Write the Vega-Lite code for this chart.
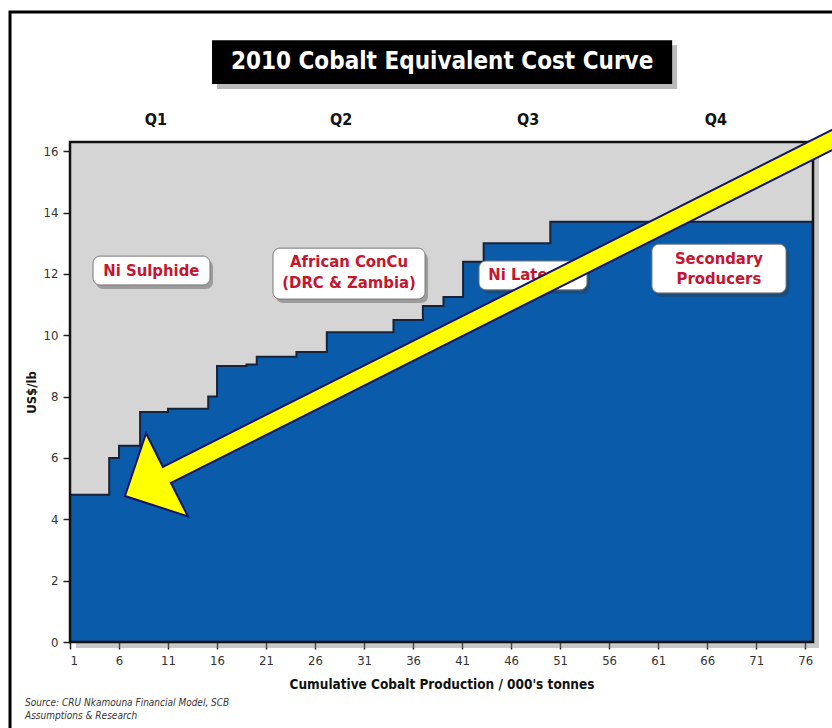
{
  "$schema": "https://vega.github.io/schema/vega-lite/v6.json",
  "width": 743,
  "height": 500,
  "autosize": {"type": "none"},
  "padding": {"left": 70, "top": 142, "right": 19, "bottom": 86},
  "background": "white",
  "config": {"view": {"stroke": null}, "font": "DejaVu Sans Condensed, Liberation Sans, sans-serif"},
  "datasets": {
    "plot": [{"x": 1, "x2": 76.8, "y": 0, "y2": 16.3}],
    "steps": [
      {"x": 1, "y": 4.8}, {"x": 5, "y": 6.0}, {"x": 6, "y": 6.4}, {"x": 8.15, "y": 7.5},
      {"x": 11, "y": 7.6}, {"x": 15.1, "y": 8.0}, {"x": 16, "y": 9.0}, {"x": 19, "y": 9.05},
      {"x": 20.05, "y": 9.3}, {"x": 24.1, "y": 9.45}, {"x": 27.2, "y": 10.1}, {"x": 34, "y": 10.5},
      {"x": 37, "y": 10.95}, {"x": 39.1, "y": 11.25}, {"x": 41.1, "y": 12.4}, {"x": 43.2, "y": 13.0},
      {"x": 50, "y": 13.7}, {"x": 76.8, "y": 13.7}
    ],
    "quartiles": [{"x": 19}, {"x": 38.25}, {"x": 57.1}],
    "maxCost": [{"y": 13.7}],
    "avgCost": [{"y": 10.85}],
    "boxes": [
      {"x": 3.35, "x2": 15.28, "y": 12.58, "y2": 11.64},
      {"x": 21.71, "x2": 37.22, "y": 12.84, "y2": 11.18},
      {"x": 42.73, "x2": 53.74, "y": 12.42, "y2": 11.48},
      {"x": 60.37, "x2": 74.05, "y": 12.97, "y2": 11.38}
    ],
    "boxText": [
      {"x": 9.3, "y": 12.1, "text": "Ni Sulphide"},
      {"x": 29.47, "y": 12.39, "text": "African ConCu"},
      {"x": 29.47, "y": 11.7, "text": "(DRC & Zambia)"},
      {"x": 48.2, "y": 11.95, "text": "Ni Laterite"},
      {"x": 67.2, "y": 12.49, "text": "Secondary"},
      {"x": 67.2, "y": 11.83, "text": "Producers"}
    ],
    "quarters": [
      {"x": 9.77, "y": 17.02, "text": "Q1"},
      {"x": 28.65, "y": 17.02, "text": "Q2"},
      {"x": 47.73, "y": 17.02, "text": "Q3"},
      {"x": 66.9, "y": 17.02, "text": "Q4"}
    ],
    "titleBox": [{"x": 15.49, "x2": 62.43, "y": 19.62, "y2": 18.19}],
    "titleText": [{"x": 38.96, "y": 18.9, "text": "2010 Cobalt Equivalent Cost Curve"}],
    "source": [
      {"x": -3.59, "y": -1.99, "text": "Source:  CRU Nkamouna Financial Model, SCB"},
      {"x": -3.59, "y": -2.41, "text": "Assumptions & Research"}
    ],
    "frame": [{"x": -5.12, "x2": 82, "y": 20.54, "y2": -3.5}],
    "pointer": [{"x": 6.61, "y": 4.76}]
  },
  "encoding": {
    "x": {
      "field": "x",
      "type": "quantitative",
      "scale": {"domain": [1, 76.8], "nice": false, "zero": false},
      "axis": {
        "values": [1, 6, 11, 16, 21, 26, 31, 36, 41, 46, 51, 56, 61, 66, 71, 76],
        "title": "Cumulative Cobalt Production / 000's tonnes",
        "grid": false,
        "domain": false,
        "tickSize": 7,
        "tickColor": "#222",
        "tickWidth": 1.5,
        "labelFont": "DejaVu Sans Condensed, Liberation Sans, sans-serif",
        "labelFontSize": 13,
        "labelColor": "#333",
        "labelPadding": 5,
        "titleFont": "DejaVu Sans Condensed, Liberation Sans, sans-serif",
        "titleFontSize": 13.5,
        "titleFontWeight": "bold",
        "titleColor": "#111",
        "titlePadding": 10
      }
    },
    "y": {
      "field": "y",
      "type": "quantitative",
      "scale": {"domain": [0, 16.3], "nice": false, "zero": false},
      "axis": {
        "values": [0, 2, 4, 6, 8, 10, 12, 14, 16],
        "title": "US$/lb",
        "grid": false,
        "domain": false,
        "tickSize": 7,
        "tickColor": "#222",
        "tickWidth": 1.5,
        "labelFont": "DejaVu Sans Condensed, Liberation Sans, sans-serif",
        "labelFontSize": 13,
        "labelColor": "#333",
        "labelPadding": 5,
        "titleFont": "DejaVu Sans Condensed, Liberation Sans, sans-serif",
        "titleFontSize": 13,
        "titleFontWeight": "bold",
        "titleColor": "#111",
        "titlePadding": 5
      }
    }
  },
  "layer": [
    {
      "data": {"name": "plot"},
      "mark": {"type": "rect", "fill": "#888", "opacity": 0.45, "xOffset": 6, "x2Offset": 6, "yOffset": 6, "y2Offset": 6},
      "encoding": {"x2": {"field": "x2"}, "y2": {"field": "y2"}}
    },
    {
      "data": {"name": "plot"},
      "mark": {"type": "rect", "fill": "#d5d5d5"},
      "encoding": {"x2": {"field": "x2"}, "y2": {"field": "y2"}}
    },
    {
      "data": {"name": "steps"},
      "mark": {"type": "area", "interpolate": "step-after", "color": "#0a5ba9", "opacity": 1}
    },
    {
      "data": {"name": "maxCost"},
      "mark": {"type": "rule", "stroke": "#c0202e", "strokeWidth": 4, "strokeDash": [11, 8]},
      "encoding": {"x": {"datum": 1}, "x2": {"datum": 76.8}}
    },
    {
      "data": {"name": "steps"},
      "mark": {"type": "line", "interpolate": "step-after", "stroke": "#17223b", "strokeWidth": 2}
    },
    {
      "data": {"name": "quartiles"},
      "mark": {"type": "rule", "stroke": "white", "strokeWidth": 2, "strokeDash": [9, 6], "opacity": 0.75},
      "encoding": {"y": {"datum": 0}, "y2": {"datum": 16.3}}
    },
    {
      "data": {"name": "avgCost"},
      "mark": {"type": "rule", "stroke": "white", "strokeWidth": 3, "strokeDash": [3, 3.5]},
      "encoding": {"x": {"datum": 1}, "x2": {"datum": 76.8}}
    },
    {
      "data": {"name": "plot"},
      "mark": {"type": "rect", "fillOpacity": 0, "stroke": "#111", "strokeWidth": 2.5},
      "encoding": {"x2": {"field": "x2"}, "y2": {"field": "y2"}}
    },
    {
      "data": {"name": "boxes"},
      "mark": {"type": "rect", "fill": "#333", "opacity": 0.35, "cornerRadius": 7, "xOffset": 3, "x2Offset": 3, "yOffset": 4, "y2Offset": 4},
      "encoding": {"x2": {"field": "x2"}, "y2": {"field": "y2"}}
    },
    {
      "data": {"name": "boxes"},
      "mark": {"type": "rect", "fill": "white", "stroke": "#777", "strokeWidth": 1, "cornerRadius": 7},
      "encoding": {"x2": {"field": "x2"}, "y2": {"field": "y2"}}
    },
    {
      "data": {"name": "boxText"},
      "mark": {"type": "text", "color": "#c4162e", "fontSize": 16.5, "fontWeight": "bold", "baseline": "middle", "align": "center"},
      "encoding": {"text": {"field": "text"}}
    },
    {
      "data": {"name": "quarters"},
      "mark": {"type": "text", "color": "#111", "fontSize": 16, "fontWeight": "bold", "baseline": "middle", "align": "center"},
      "encoding": {"text": {"field": "text"}}
    },
    {
      "data": {"name": "titleBox"},
      "mark": {"type": "rect", "fill": "#666", "opacity": 0.45, "xOffset": 5, "x2Offset": 5, "yOffset": 5, "y2Offset": 5},
      "encoding": {"x2": {"field": "x2"}, "y2": {"field": "y2"}}
    },
    {
      "data": {"name": "titleBox"},
      "mark": {"type": "rect", "fill": "#000"},
      "encoding": {"x2": {"field": "x2"}, "y2": {"field": "y2"}}
    },
    {
      "data": {"name": "titleText"},
      "mark": {"type": "text", "color": "white", "fontSize": 24, "fontWeight": "bold", "baseline": "middle", "align": "center"},
      "encoding": {"text": {"field": "text"}}
    },
    {
      "data": {"name": "source"},
      "mark": {"type": "text", "color": "#333", "fontSize": 10, "fontStyle": "italic", "baseline": "middle", "align": "left"},
      "encoding": {"text": {"field": "text"}}
    },
    {
      "data": {"name": "frame"},
      "mark": {"type": "rect", "fillOpacity": 0, "stroke": "#000", "strokeWidth": 3},
      "encoding": {"x2": {"field": "x2"}, "y2": {"field": "y2"}}
    },
    {
      "data": {"name": "pointer"},
      "mark": {
        "type": "point",
        "shape": "M0,0 L21.1,-62.7 L37.9,-29.2 L728.4,-376.8 L736.5,-360.8 L46.0,-13.1 L62.9,20.4 Z",
        "size": 4,
        "filled": true,
        "fill": "#ffff00",
        "stroke": "#14146b",
        "strokeWidth": 2,
        "opacity": 1,
        "fillOpacity": 1
      }
    }
  ]
}
